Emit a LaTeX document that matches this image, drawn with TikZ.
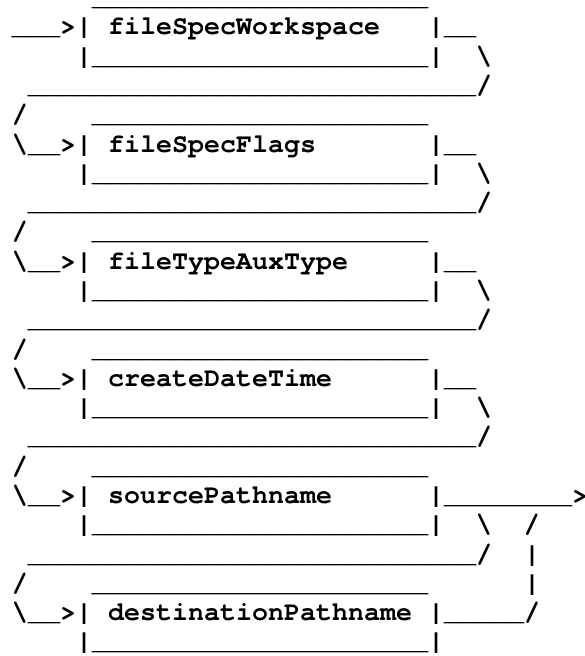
\documentclass[tikz,border=0pt]{standalone}
\usepackage{fontspec}
\setmonofont{texgyrecursor-regular.otf}[BoldFont=texgyrecursor-bold.otf, Ligatures={NoCommon}]
\ExplSyntaxOn
\NewExpandableDocumentCommand{\rpt}{m m}{\prg_replicate:nn {#1} {#2}}
\ExplSyntaxOff
% helpers for the character grid
\newcommand{\bs}{\textbackslash}
\newcommand{\ul}[1]{\rpt{#1}{\_}}
\newcommand{\sps}[1]{\rpt{#1}{~}}
% one row of the chart: width of a cell is 16pt, rows are 29.28pt apart
\tikzset{
  row/.style={anchor=base west, inner sep=0pt, outer sep=0pt,
    font=\fontsize{26.667pt}{29.28pt}\selectfont\ttfamily\bfseries}
}
\newcommand{\rowat}[3]{\node[row] (#1) at (12pt,{-5.7pt-(#2-1)*29.28pt}) {#3};}
\begin{document}
\begin{tikzpicture}
\useasboundingbox (0,0) rectangle (584pt,-656pt);
% box 1
\rowat{r1}{1}{\sps{5}\ul{21}}
\rowat{r2}{2}{\ul{3}>|~fileSpecWorkspace\sps{3}|\ul{2}}
\rowat{r3}{3}{\sps{4}|\ul{21}|\sps{2}\bs}
\rowat{r4}{4}{~\ul{28}/}
% box 2
\rowat{r5}{5}{/\sps{4}\ul{21}}
\rowat{r6}{6}{\bs\ul{2}>|~fileSpecFlags\sps{7}|\ul{2}}
\rowat{r7}{7}{\sps{4}|\ul{21}|\sps{2}\bs}
\rowat{r8}{8}{~\ul{28}/}
% box 3
\rowat{r9}{9}{/\sps{4}\ul{21}}
\rowat{r10}{10}{\bs\ul{2}>|~fileTypeAuxType\sps{5}|\ul{2}}
\rowat{r11}{11}{\sps{4}|\ul{21}|\sps{2}\bs}
\rowat{r12}{12}{~\ul{28}/}
% box 4
\rowat{r13}{13}{/\sps{4}\ul{21}}
\rowat{r14}{14}{\bs\ul{2}>|~createDateTime\sps{6}|\ul{2}}
\rowat{r15}{15}{\sps{4}|\ul{21}|\sps{2}\bs}
\rowat{r16}{16}{~\ul{28}/}
% box 5, with the exit arrow
\rowat{r17}{17}{/\sps{4}\ul{21}}
\rowat{r18}{18}{\bs\ul{2}>|~sourcePathname\sps{6}|\ul{8}>}
\rowat{r19}{19}{\sps{4}|\ul{21}|\sps{2}\bs\sps{2}/}
\rowat{r20}{20}{~\ul{28}/\sps{2}|}
% box 6, looping back to the exit
\rowat{r21}{21}{/\sps{4}\ul{21}\sps{6}|}
\rowat{r22}{22}{\bs\ul{2}>|~destinationPathname~|\ul{5}/}
\rowat{r23}{23}{\sps{4}|\ul{21}|}
\end{tikzpicture}
\end{document}
